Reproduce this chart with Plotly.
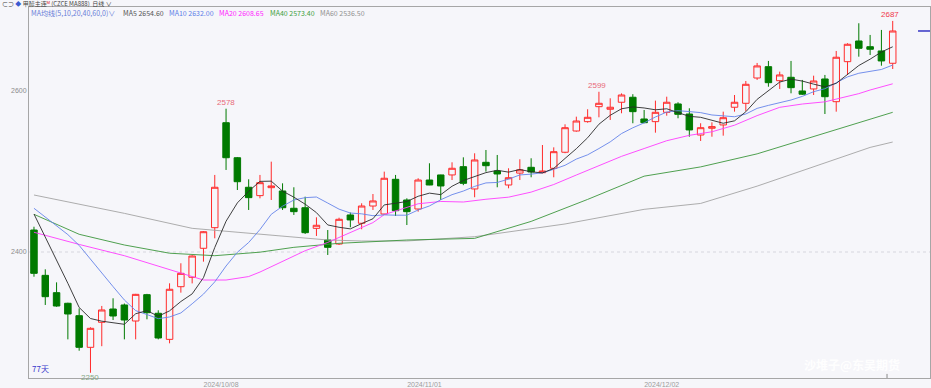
import plotly.graph_objects as go

BG = "#f6f6fa"

dates = [
    "2024/09/04", "2024/09/05", "2024/09/06", "2024/09/09", "2024/09/10", "2024/09/11", "2024/09/12", "2024/09/13",
    "2024/09/18", "2024/09/19", "2024/09/20", "2024/09/23", "2024/09/24", "2024/09/25", "2024/09/26", "2024/09/27",
    "2024/09/30", "2024/10/08", "2024/10/09", "2024/10/10", "2024/10/11", "2024/10/14", "2024/10/15", "2024/10/16",
    "2024/10/17", "2024/10/18", "2024/10/21", "2024/10/22", "2024/10/23", "2024/10/24", "2024/10/25", "2024/10/28",
    "2024/10/29", "2024/10/30", "2024/10/31", "2024/11/01", "2024/11/04", "2024/11/05", "2024/11/06", "2024/11/07",
    "2024/11/08", "2024/11/11", "2024/11/12", "2024/11/13", "2024/11/14", "2024/11/15", "2024/11/18", "2024/11/19",
    "2024/11/20", "2024/11/21", "2024/11/22", "2024/11/25", "2024/11/26", "2024/11/27", "2024/11/28", "2024/11/29",
    "2024/12/02", "2024/12/03", "2024/12/04", "2024/12/05", "2024/12/06", "2024/12/09", "2024/12/10", "2024/12/11",
    "2024/12/12", "2024/12/13", "2024/12/16", "2024/12/17", "2024/12/18", "2024/12/19", "2024/12/20", "2024/12/23",
    "2024/12/24", "2024/12/25", "2024/12/26", "2024/12/27", "2024/12/30",
]

opens = [2427.3, 2371, 2349.5, 2336.3, 2320.9, 2281.6, 2312.7, 2329.2, 2334.2, 2314.3,
         2347, 2323.9, 2291.5, 2356.9, 2368.6, 2404.6, 2430.2, 2560.6, 2517.1, 2480.4,
         2470, 2479.9, 2475.8, 2454.3, 2455, 2429.4, 2414.9, 2409.9, 2446, 2435.7,
         2457.1, 2447.2, 2490.3, 2464.6, 2453.4, 2489.4, 2495.7, 2495.7, 2506, 2478.3,
         2511.4, 2500.6, 2483.2, 2498, 2505.2, 2498.5, 2504, 2523.9, 2550.3, 2561.9,
         2580.5, 2577.3, 2586, 2592.2, 2565.2, 2561.9, 2573.5, 2583.9, 2571.4, 2545.3,
         2553.7, 2557.8, 2579.8, 2584.7, 2616.1, 2630.2, 2612.8, 2617, 2600, 2602.5,
         2614.9, 2586.7, 2636.4, 2662.1, 2655, 2649.7, 2634.4]
highs = [2431.4, 2378.5, 2362.3, 2337, 2330, 2306.5, 2333, 2342.5, 2336, 2348,
         2348, 2327.6, 2361.1, 2386, 2396, 2426, 2495.7, 2578, 2518, 2490.3,
         2495.7, 2512.2, 2485.3, 2480.4, 2468.7, 2443.1, 2427.3, 2442.6, 2449, 2460.5,
         2472, 2499.8, 2495.7, 2466.7, 2491.6, 2510.2, 2496, 2511.4, 2517.6, 2522.6,
         2526.7, 2520.5, 2504, 2515.2, 2516.4, 2532.9, 2530, 2558.6, 2568.1, 2577.3,
         2599, 2590.9, 2597, 2596, 2576.4, 2588, 2592.9, 2586, 2578.5, 2559.9,
         2561.1, 2574.3, 2595, 2612.4, 2634.8, 2637.3, 2624, 2637.3, 2613.7, 2619,
         2619.9, 2649.7, 2659.3, 2684.1, 2669.6, 2675.8, 2687]
lows = [2369.3, 2334.2, 2332, 2291.5, 2277.4, 2250, 2283, 2315.5, 2291.5, 2291.5,
        2316.4, 2291.5, 2286.6, 2349.5, 2361, 2388, 2417, 2501.9, 2477, 2452.2,
        2466.7, 2464.6, 2452.2, 2446, 2422.4, 2419.9, 2396.3, 2408.7, 2430.7, 2428.2,
        2452.2, 2446, 2444.7, 2433.5, 2450.1, 2483, 2464.6, 2489.4, 2483, 2468,
        2499.8, 2480.4, 2479.1, 2489.4, 2492.8, 2498, 2492.8, 2522.7, 2549.4, 2560.6,
        2567.3, 2564, 2572.3, 2559.9, 2560, 2548.2, 2569.3, 2566.1, 2543.2, 2537.9,
        2543.2, 2544.5, 2574.3, 2575.2, 2613.7, 2605.3, 2602.5, 2597.1, 2595, 2595,
        2571.4, 2574.3, 2619.9, 2642.6, 2644.7, 2631.4, 2627.3]
closes = [2373.5, 2344.5, 2332.9, 2323, 2281.6, 2305.2, 2328, 2320.5, 2315.5, 2347.4,
          2324.6, 2293.2, 2353.7, 2373.5, 2395, 2425.2, 2480.4, 2517.1, 2487.3, 2467.5,
          2486.1, 2482, 2455, 2450.1, 2424, 2433.2, 2405.8, 2440.6, 2439.8, 2457.1,
          2463.4, 2491.6, 2451.3, 2450.1, 2489.4, 2483.2, 2482, 2504, 2485.3, 2514.3,
          2507.2, 2496.9, 2492.3, 2502, 2499.4, 2500.6, 2524.6, 2554.4, 2562.7, 2567.3,
          2584.7, 2579.8, 2595, 2574.3, 2560.6, 2573.5, 2586, 2571, 2551.6, 2554.4,
          2555.7, 2566.8, 2586, 2608.3, 2631.1, 2610.3, 2619.9, 2604.1, 2596, 2612.4,
          2592.9, 2641.9, 2658, 2653, 2651.8, 2637.3, 2674.5]

ma5_val = [2447.2, 2419, 2390, 2361.1, 2331.1, 2317.4, 2314.1, 2311.7, 2310.2, 2323.3,
           2327.2, 2320.2, 2326.9, 2338.5, 2348, 2368.1, 2405.6, 2438.2, 2461, 2475.5,
           2487.7, 2488, 2475.6, 2468.1, 2459.4, 2448.9, 2433.6, 2430.7, 2428.7, 2435.3,
           2441.3, 2458.5, 2460.6, 2462.7, 2469.2, 2473.1, 2471.2, 2481.7, 2488.8, 2493.8,
           2498.6, 2501.5, 2499.2, 2502.5, 2499.6, 2498.2, 2503.8, 2516.2, 2528.3, 2541.9,
           2558.7, 2569.8, 2577.9, 2580.2, 2578.9, 2576.6, 2577.9, 2573.1, 2568.5, 2567.3,
           2563.7, 2559.9, 2562.9, 2574.2, 2589.6, 2600.5, 2611.1, 2614.7, 2612.3, 2608.5,
           2605.1, 2609.5, 2620.2, 2631.6, 2639.5, 2648.4, 2654.9]
ma10_val = [2454.3, 2443.7, 2432.4, 2421.6, 2408.2, 2390.8, 2373.5, 2357, 2340.4, 2327.2,
            2322.3, 2317.2, 2319.3, 2324.3, 2335.7, 2347.7, 2362.9, 2382.6, 2399.7, 2411.8,
            2427.9, 2446.8, 2456.9, 2464.6, 2467.5, 2468.3, 2460.8, 2453.2, 2448.4, 2447.4,
            2445.1, 2446.1, 2445.7, 2445.7, 2452.2, 2457.2, 2464.9, 2471.2, 2475.7, 2481.5,
            2485.8, 2486.4, 2490.5, 2495.7, 2496.7, 2498.4, 2502.7, 2507.7, 2515.4, 2520.7,
            2528.5, 2536.8, 2547.1, 2554.3, 2560.4, 2567.7, 2573.8, 2575.5, 2574.4, 2573.1,
            2570.2, 2568.9, 2568, 2571.4, 2578.4, 2582.1, 2585.5, 2588.8, 2593.3, 2599.1,
            2602.8, 2610.3, 2617.5, 2622, 2624, 2626.7, 2632.2]

ma20_idx = [0, 4, 8, 12, 15, 17, 19, 20, 22, 24, 26, 28, 30, 31, 34, 36, 38, 40, 42, 44, 46,
            48, 50, 52, 54, 56, 58, 60, 62, 64, 66, 68, 70, 72, 73, 74, 76]
ma20_val = [2424.5, 2409.4, 2395.4, 2377.6, 2365.2, 2365.2, 2369.5, 2375.1, 2388.1, 2401.6, 2411.9,
            2424.1, 2436.5, 2446.4, 2459.9, 2462.8, 2462.1, 2465.5, 2468.1, 2474.4, 2483.8,
            2495.6, 2507.2, 2518.8, 2528.5, 2538.2, 2544.9, 2549.3, 2557.5, 2569.4, 2579.7,
            2583.8, 2586.5, 2592.7, 2596.7, 2601.2, 2608.9]

ma40_idx = [0, 4, 8, 12, 16, 20, 23, 27, 33, 39, 44, 49, 54, 59, 64, 69, 74, 76]
ma40_val = [2446.8, 2422, 2408.7, 2398.5, 2395.4, 2399.8, 2405.8, 2410.8, 2414.9, 2416.9,
            2438, 2465.3, 2494.2, 2505.7, 2521.9, 2543.6, 2564.9, 2573.5]

ma60_idx = [0, 4, 8, 14, 20, 23, 26, 29, 33, 39, 47, 54, 59, 64, 69, 74, 76]
ma60_val = [2470.8, 2459.6, 2448, 2429.4, 2422.5, 2418.6, 2414.9, 2413.7, 2413.7, 2419,
            2434.8, 2453, 2460.3, 2481.8, 2505.6, 2529.9, 2536.6]

x_ticks = ["2024/10/08", "2024/11/01", "2024/12/02"]
y_ticks = [2400, 2600]

FONT = "Liberation Sans, Noto Sans CJK SC, sans-serif"
CJK = "Noto Sans CJK SC, sans-serif"

fig = go.Figure()
fig.add_trace(go.Candlestick(
    x=dates, open=opens, high=highs, low=lows, close=closes,
    increasing=dict(line=dict(color="#ff2b2b", width=1), fillcolor=BG),
    decreasing=dict(line=dict(color="#007a00", width=1), fillcolor="#007a00"),
    whiskerwidth=0, hoverinfo="skip",
))


def add_ma(idx, vals, color):
    fig.add_trace(go.Scatter(x=[dates[i] for i in idx], y=vals, mode="lines",
                             line=dict(color=color, width=0.9), hoverinfo="skip"))


add_ma(ma60_idx, ma60_val, "#a4a4a4")
add_ma(ma40_idx, ma40_val, "#3c963c")
add_ma(ma20_idx, ma20_val, "#ff3cff")
add_ma(list(range(len(ma10_val))), ma10_val, "#6585ea")
add_ma(list(range(len(ma5_val))), ma5_val, "#2a2a2a")

Y0, Y1 = 2243.5, 2704.3

fig.update_layout(
    width=931, height=388,
    margin=dict(l=29, r=1, t=7, b=10, autoexpand=False),
    paper_bgcolor=BG, plot_bgcolor=BG,
    showlegend=False, boxgap=0.18,
    font=dict(family=FONT, size=7, color="#999999"),
    xaxis=dict(type="category", range=[-0.44, 79.3], rangeslider=dict(visible=False),
               showgrid=False, zeroline=False, showline=True, mirror=True,
               linecolor="#a6a6a6", linewidth=1, ticks="",
               tickvals=x_ticks, ticktext=x_ticks, ticklabelshift=-5,
               tickfont=dict(size=7, color="#9c9c9c"), automargin=False),
    yaxis=dict(range=[Y0, Y1], showgrid=False, zeroline=False, showline=True, mirror=True,
               linecolor="#a6a6a6", linewidth=1, ticks="",
               tickvals=y_ticks, ticktext=[str(v) for v in y_ticks],
               tickfont=dict(size=7, color="#8c8c8c"), automargin=False),
)

# dotted reference line at 2400
fig.add_shape(type="line", xref="paper", yref="y", x0=0, x1=1, y0=2400, y1=2400,
              line=dict(color="#d6d6de", width=1, dash="dot"), layer="below")
# last price marker on the right edge
fig.add_shape(type="line", xref="paper", yref="y", x0=0.9867, x1=1, y0=closes[-1], y1=closes[-1],
              line=dict(color="#3434c4", width=1.5))
# small tick at the bottom near the last bar
fig.add_shape(type="line", xref="paper", yref="paper", x0=0.9523, x1=0.9523, y0=0, y1=0.011,
              line=dict(color="#8a8a8a", width=1))

# extreme value labels
fig.add_annotation(x=dates[17], y=highs[17], text="2578", showarrow=False, yanchor="bottom",
                   font=dict(size=8, color="#e86a78"))
fig.add_annotation(x=dates[50], y=highs[50], text="2599", showarrow=False, yanchor="bottom",
                   xshift=-2, font=dict(size=8, color="#e86a78"))
fig.add_annotation(x=dates[76], y=highs[76], text="2687", showarrow=False, yanchor="bottom",
                   xshift=-3, font=dict(size=8, color="#f03a4a"))
fig.add_annotation(x=dates[5], y=lows[5], text="2250", showarrow=False, yanchor="top",
                   yshift=2, font=dict(size=8, color="#86a886"))

# bottom-left day count
fig.add_annotation(xref="paper", yref="paper", x=0.001, y=0.005, xanchor="left", yanchor="bottom",
                   text="77天", showarrow=False, font=dict(family=CJK, size=8, color="#3a3acc"))

# header row 1
fig.add_annotation(xref="paper", yref="paper", x=-0.031, y=(378 - 4) / 371, xanchor="left", yanchor="middle",
                   text="⊂⊃ <span style='color:#3a5ad0'>◆</span> 甲醇主连<span style='color:#e03030'>ᴹ</span> (CZCE MA888)  日线 ∨",
                   showarrow=False, borderpad=0, font=dict(family=CJK, size=6, color="#444444"))

legend_items = [
    ("MA均线(5,10,20,40,60,0)∨", "#6a80d8", 30),
    ("MA5 2654.60", "#555555", 122),
    ("MA10 2632.00", "#5b7de8", 168),
    ("MA20 2608.65", "#ff22ff", 218),
    ("MA40 2573.40", "#40a040", 269),
    ("MA60 2536.50", "#909090", 319),
]
for txt, col, px in legend_items:
    fig.add_annotation(xref="paper", yref="paper", x=(px - 29) / 901, y=(378 - 13) / 371,
                       xanchor="left", yanchor="middle", text=txt, showarrow=False, borderpad=0,
                       font=dict(family=CJK, size=7, color=col))

# watermark
fig.add_annotation(xref="paper", yref="paper", x=(852 - 29) / 901, y=(378 - 364) / 371,
                   xanchor="center", yanchor="middle", text="<b>沙堆子@东吴期货</b>", showarrow=False,
                   font=dict(family=CJK, size=12, color="rgba(255,255,255,0.95)"))

fig.write_html("out.html")
